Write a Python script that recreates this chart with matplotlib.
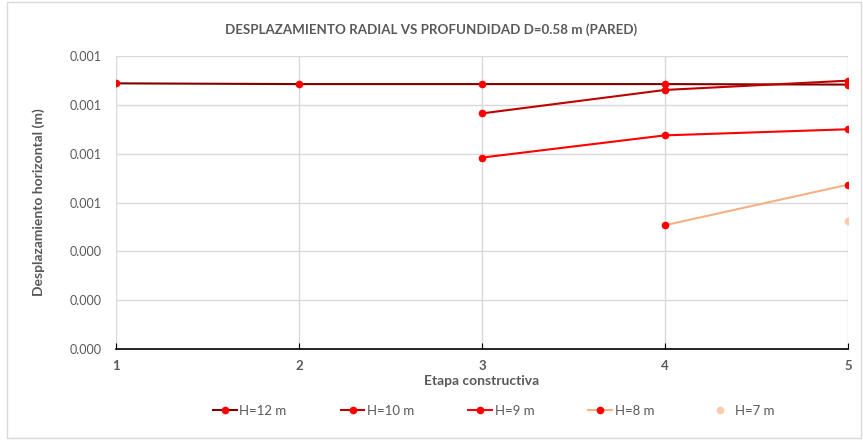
import matplotlib
matplotlib.use('Agg')
import matplotlib.pyplot as plt
from matplotlib.patches import Rectangle
from matplotlib.ticker import FormatStrFormatter, MultipleLocator

plt.rcParams['font.family'] = ['Lato', 'DejaVu Sans']

# valores (desplazamiento en m)
etapas_12 = [1, 2, 3, 4, 5]
h12 = [0.001088, 0.001085, 0.001085, 0.001085, 0.001083]
etapas_10 = [3, 4, 5]
h10 = [0.000965, 0.001061, 0.001099]
etapas_9 = [3, 4, 5]
h9 = [0.000784, 0.000875, 0.000900]
etapas_8 = [4, 5]
h8 = [0.000507, 0.000673]
etapas_7 = [5]
h7 = [0.000523]

gray = '#595959'
fig = plt.figure(figsize=(8.63, 4.4), dpi=100)
ax = fig.add_axes([0.1344, 0.2068, 0.8482, 0.6659])

ax.plot(etapas_12, h12, color='#7f0000', lw=1.5, marker='o', ms=4.5, mfc='#ff0000', mec='#ff0000', label='H=12 m', zorder=3)
ax.plot(etapas_10, h10, color='#c00000', lw=1.5, marker='o', ms=4.5, mfc='#ff0000', mec='#ff0000', label='H=10 m', zorder=3)
ax.plot(etapas_9, h9, color='#ff0000', lw=1.5, marker='o', ms=4.5, mfc='#ff0000', mec='#ff0000', label='H=9 m', zorder=3)
ax.plot(etapas_8, h8, color='#f4b183', lw=1.5, marker='o', ms=4.5, mfc='#ff0000', mec='#ff0000', label='H=8 m', zorder=3)
ax.plot(etapas_7, h7, color='#f8cbad', lw=0, marker='o', ms=4.5, mfc='#f8cbad', mec='#f8cbad', label='H=7 m', zorder=3)

ax.set_xlim(1, 5)
ax.set_ylim(0, 0.0012)
ax.xaxis.set_major_locator(MultipleLocator(1))
ax.yaxis.set_major_locator(MultipleLocator(0.0002))
ax.yaxis.set_major_formatter(FormatStrFormatter('%.3f'))
ax.grid(True, color='#d9d9d9', lw=1)
ax.set_axisbelow(True)
for s in ['top', 'right', 'left']:
    ax.spines[s].set_visible(False)
ax.spines['bottom'].set_color('black')
ax.spines['bottom'].set_linewidth(1.2)
ax.tick_params(axis='y', length=0, labelsize=9, labelcolor=gray, pad=10)
ax.tick_params(axis='x', direction='in', length=4, color='black', labelsize=9.5, labelcolor=gray, pad=8)
for t in ax.get_xticklabels():
    t.set_fontweight('bold')

ax.set_xlabel('Etapa constructiva', fontsize=10, fontweight='bold', color=gray, labelpad=2)
ax.set_ylabel('Desplazamiento horizontal (m)', fontsize=10, fontweight='bold', color=gray, labelpad=18)
fig.text(0.5, 0.932, 'DESPLAZAMIENTO RADIAL VS PROFUNDIDAD D=0.58 m (PARED)', ha='center', va='center',
         fontsize=9.6, fontweight='bold', color=gray)

leg = fig.legend(loc='center', bbox_to_anchor=(0.572, 0.066), ncol=5, frameon=False, fontsize=9.5,
                 handlelength=1.8, handletextpad=0.2, columnspacing=4.1)
for t in leg.get_texts():
    t.set_color(gray)

fig.patches.append(Rectangle((0.008, 0.005), 0.99, 0.99, transform=fig.transFigure, fill=False,
                             edgecolor='#d9d9d9', lw=1))

fig.savefig('out.png', dpi=100)
